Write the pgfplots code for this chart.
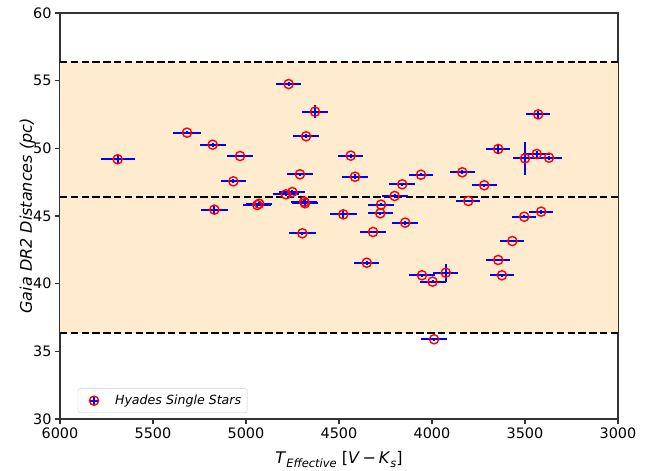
\documentclass[border=0pt]{standalone}
\usepackage{pgfplots}
\pgfplotsset{compat=1.18}
\usepackage{pgfplotstable}
\usepackage{fontspec}
\setmainfont{DejaVu Sans}
\definecolor{almond}{RGB}{255,235,205}
\pgfplotstableread{
T D ex ey
5690 49.19 91 0.30
5317 51.16 76 0.10
5179 50.27 70 0.15
5032 49.43 72 0.10
5068 47.56 68 0.15
5170 45.47 72 0.30
4939 45.81 76 0.15
4929 45.91 70 0.15
4785 46.60 70 0.15
4751 46.77 70 0.15
4771 54.75 67 0.15
4629 52.71 70 0.47
4677 50.89 68 0.15
4710 48.08 70 0.10
4687 46.06 70 0.20
4683 45.94 70 0.30
4697 43.72 72 0.10
4437 49.46 67 0.15
4414 47.90 70 0.20
4477 45.12 72 0.30
4059 48.05 66 0.10
4160 47.34 70 0.10
4201 46.48 70 0.15
4274 45.84 70 0.10
4278 45.20 68 0.10
4144 44.51 70 0.15
4317 43.82 72 0.10
3837 48.23 66 0.15
3719 47.27 66 0.10
3805 46.11 65 0.10
3644 49.95 66 0.30
3429 52.51 63 0.25
3500 49.26 65 1.23
3437 49.58 72 0.20
3371 49.31 70 0.15
3504 44.95 65 0.10
3413 45.32 65 0.15
3568 43.15 65 0.10
4351 41.55 68 0.15
4054 40.62 68 0.10
3997 40.15 70 0.10
3926 40.81 68 0.68
3644 41.75 65 0.10
3624 40.62 65 0.10
3989 35.89 68 0.10
}\stars
\begin{document}
\begin{tikzpicture}
\begin{axis}[
  name=ax,
  scale only axis,
  width=558pt, height=406pt,
  xmin=3000, xmax=6000, ymin=30, ymax=60,
  x dir=reverse,
  xtick={3000,3500,4000,4500,5000,5500,6000},
  ytick={30,35,40,45,50,55,60},
  tick align=outside,
  tick pos=left,
  major tick length=5pt,
  axis line style={black!80, line width=1.1pt},
  every tick/.style={black!80, line width=1.1pt},
  /pgf/number format/assume math mode=true,
  /pgf/number format/1000 sep={},
  ticklabel style={font=\fontsize{14.4}{16}\selectfont},
  xlabel={\textit{T}\raisebox{-0.28em}{\fontsize{11.5}{13}\selectfont\itshape Effective} [\textit{V}\,−\,\textit{K}\raisebox{-0.28em}{\fontsize{11.5}{13}\selectfont\itshape s}]},
  ylabel={\itshape Gaia DR2 Distances (pc)},
  label style={font=\fontsize{16}{18}\selectfont},
  xlabel style={yshift=-6pt},
  ylabel style={yshift=-9pt},
  legend style={at={(0.032,0.015)}, anchor=south west, draw=black!20, rounded corners=2pt,
    fill=white, fill opacity=0.8, text opacity=1, font=\fontsize{12.6}{14}\selectfont\itshape,
    inner xsep=4pt, inner ysep=4.5pt},
  legend cell align=left,
]
\addplot[fill=almond, draw=none, forget plot] coordinates {(6000,36.35) (3000,36.35) (3000,56.4) (6000,56.4)} -- cycle;
\addplot[black, line width=2pt, dash pattern=on 7.4pt off 3.4pt, forget plot] coordinates {(6000,56.4) (3000,56.4)};
\addplot[black, line width=2pt, dash pattern=on 7.4pt off 3.4pt, forget plot] coordinates {(6000,46.4) (3000,46.4)};
\addplot[black, line width=2pt, dash pattern=on 7.4pt off 3.4pt, forget plot] coordinates {(6000,36.35) (3000,36.35)};
\addplot[draw=none, mark=none, forget plot,
  error bars/.cd, x dir=both, x explicit, y dir=both, y explicit,
  error bar style={blue, line width=2pt}, error mark=none]
  table[x=T, y=D, x error=ex, y error=ey] {\stars};
\addplot[only marks, mark=o, mark size=4.6pt, red, mark options={line width=1.4pt},
  legend image code/.code={
    \path[draw=none] (0pt,0pt) -- (31pt,0pt);
    \draw[blue, line width=2pt] (12pt,-4pt) -- (12pt,4pt);
    \draw[blue, line width=2pt] (8pt,0pt) -- (16pt,0pt);
    \draw[red, line width=1.4pt] (12pt,0pt) circle[radius=4.6pt];}]
  table[x=T, y=D] {\stars};
\addlegendentry{Hyades Single Stars}
\end{axis}
\pgfresetboundingbox
\path[use as bounding box] ([shift={(-60pt,-51pt)}]ax.south west) rectangle ([shift={(38pt,13pt)}]ax.north east);
\end{tikzpicture}
\end{document}
